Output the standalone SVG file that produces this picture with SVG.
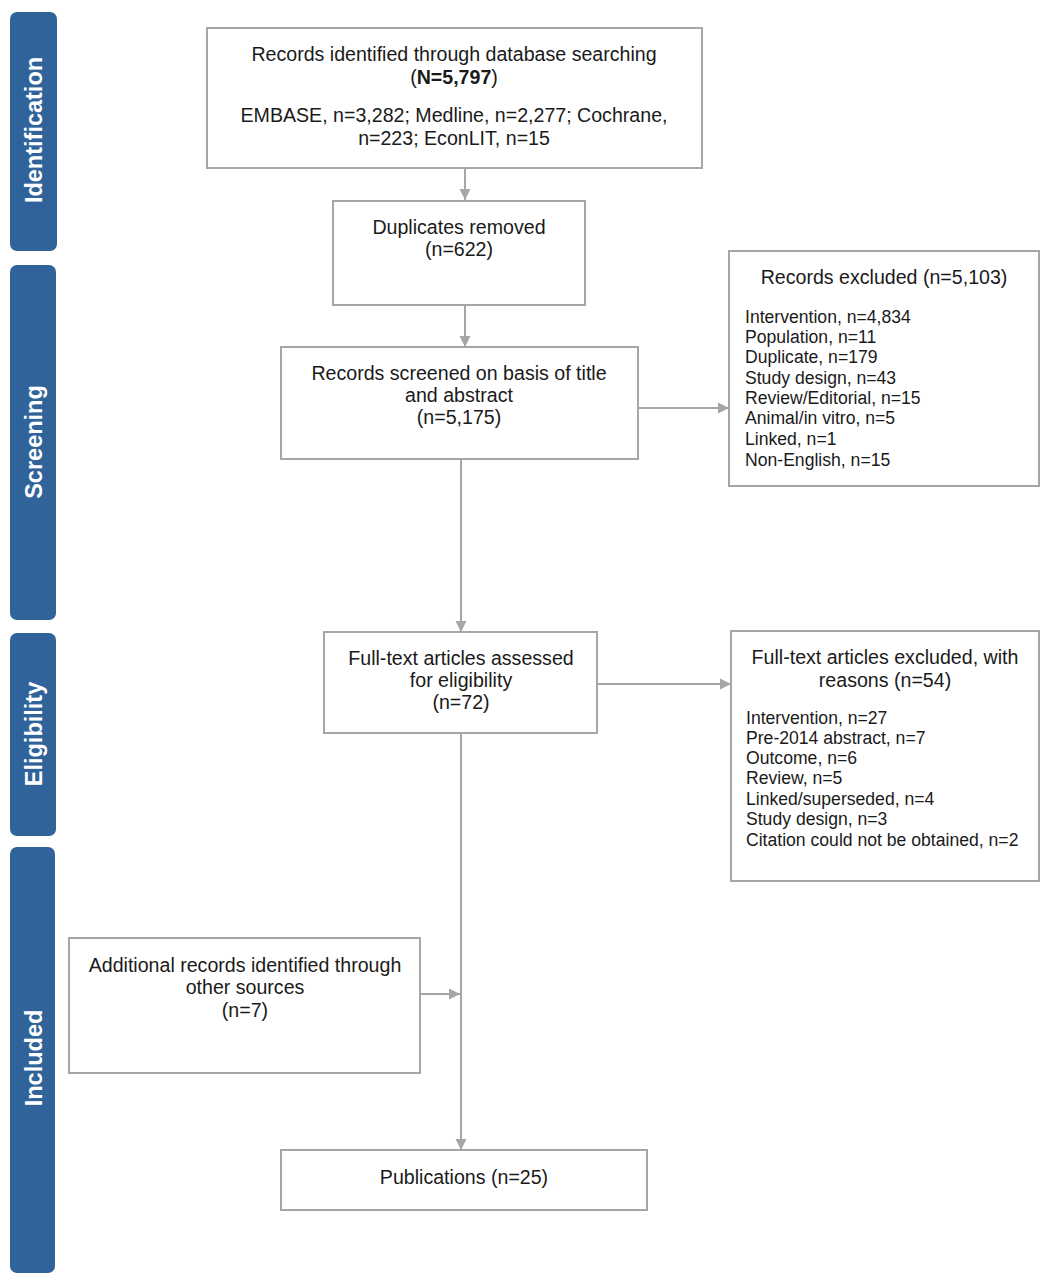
<svg xmlns="http://www.w3.org/2000/svg" width="1042" height="1280" viewBox="0 0 1042 1280">
<style>
.band{fill:#30639a}
.bt{font-family:"Liberation Sans",Arial,sans-serif;font-size:23.5px;font-weight:bold;fill:#fff;text-anchor:middle}
.box{fill:#fff;stroke:#a6a6a6;stroke-width:2}
.t{font-family:"Liberation Sans",Arial,sans-serif;font-size:19.6px;fill:#1a1a1a;text-anchor:middle}
.l{font-family:"Liberation Sans",Arial,sans-serif;font-size:17.6px;fill:#1a1a1a}
.c{stroke:#a6a6a6;stroke-width:2;fill:none;marker-end:url(#ah)}
</style>
<defs>
<marker id="ah" markerWidth="12" markerHeight="12" refX="11" refY="6" orient="auto" markerUnits="userSpaceOnUse">
<path d="M0,0.5 L11,6 L0,11.5 z" fill="#a6a6a6"/>
</marker>
</defs>
<rect width="1042" height="1280" fill="#fff"/>
<g id="band-identification"><rect class="band" x="10" y="12" width="47" height="239" rx="7"/><text class="bt" transform="translate(42,130) rotate(-90)">Identification</text></g>
<g id="band-screening"><rect class="band" x="10" y="265" width="46" height="355" rx="7"/><text class="bt" transform="translate(42,442) rotate(-90)">Screening</text></g>
<g id="band-eligibility"><rect class="band" x="10" y="633" width="46" height="203" rx="7"/><text class="bt" transform="translate(42,734) rotate(-90)">Eligibility</text></g>
<g id="band-included"><rect class="band" x="10" y="847" width="45" height="426" rx="7"/><text class="bt" transform="translate(42,1058) rotate(-90)">Included</text></g>
<g id="connectors">
<line class="c" x1="465" y1="169" x2="465" y2="200"/>
<line class="c" x1="465" y1="305" x2="465" y2="347"/>
<line class="c" x1="638" y1="408" x2="729" y2="408"/>
<line class="c" x1="461" y1="459" x2="461" y2="632"/>
<line class="c" x1="597" y1="684" x2="731" y2="684"/>
<line class="c" x1="461" y1="733" x2="461" y2="1150"/>
<line class="c" x1="420" y1="994" x2="460" y2="994"/>
</g>
<g id="node-records-identified"><rect class="box" x="207" y="28" width="495" height="140"/>
<text class="t" x="454" y="61">Records identified through database searching</text>
<text class="t" x="454" y="84">(<tspan font-weight="bold">N=5,797</tspan>)</text>
<text class="t" x="454" y="122">EMBASE, n=3,282; Medline, n=2,277; Cochrane,</text>
<text class="t" x="454" y="145">n=223; EconLIT, n=15</text></g>
<g id="node-duplicates"><rect class="box" x="333" y="201" width="252" height="104"/>
<text class="t" x="459" y="234">Duplicates removed</text>
<text class="t" x="459" y="256">(n=622)</text></g>
<g id="node-screened"><rect class="box" x="281" y="347" width="357" height="112"/>
<text class="t" x="459" y="380">Records screened on basis of title</text>
<text class="t" x="459" y="402">and abstract</text>
<text class="t" x="459" y="424">(n=5,175)</text></g>
<g id="node-records-excluded"><rect class="box" x="729" y="251" width="310" height="235"/>
<text class="t" x="884" y="284">Records excluded (n=5,103)</text>
<text class="l" x="745" y="323">Intervention, n=4,834</text>
<text class="l" x="745" y="343">Population, n=11</text>
<text class="l" x="745" y="363">Duplicate, n=179</text>
<text class="l" x="745" y="384">Study design, n=43</text>
<text class="l" x="745" y="404">Review/Editorial, n=15</text>
<text class="l" x="745" y="424">Animal/in vitro, n=5</text>
<text class="l" x="745" y="445">Linked, n=1</text>
<text class="l" x="745" y="466">Non-English, n=15</text></g>
<g id="node-fulltext-assessed"><rect class="box" x="324" y="632" width="273" height="101"/>
<text class="t" x="461" y="665">Full-text articles assessed</text>
<text class="t" x="461" y="687">for eligibility</text>
<text class="t" x="461" y="709">(n=72)</text></g>
<g id="node-fulltext-excluded"><rect class="box" x="731" y="631" width="308" height="250"/>
<text class="t" x="885" y="664">Full-text articles excluded, with</text>
<text class="t" x="885" y="687">reasons (n=54)</text>
<text class="l" x="746" y="724">Intervention, n=27</text>
<text class="l" x="746" y="744">Pre-2014 abstract, n=7</text>
<text class="l" x="746" y="764">Outcome, n=6</text>
<text class="l" x="746" y="784">Review, n=5</text>
<text class="l" x="746" y="805">Linked/superseded, n=4</text>
<text class="l" x="746" y="825">Study design, n=3</text>
<text class="l" x="746" y="846">Citation could not be obtained, n=2</text></g>
<g id="node-additional"><rect class="box" x="69" y="938" width="351" height="135"/>
<text class="t" x="245" y="972">Additional records identified through</text>
<text class="t" x="245" y="994">other sources</text>
<text class="t" x="245" y="1017">(n=7)</text></g>
<g id="node-publications"><rect class="box" x="281" y="1150" width="366" height="60"/>
<text class="t" x="464" y="1184">Publications (n=25)</text></g>
</svg>
